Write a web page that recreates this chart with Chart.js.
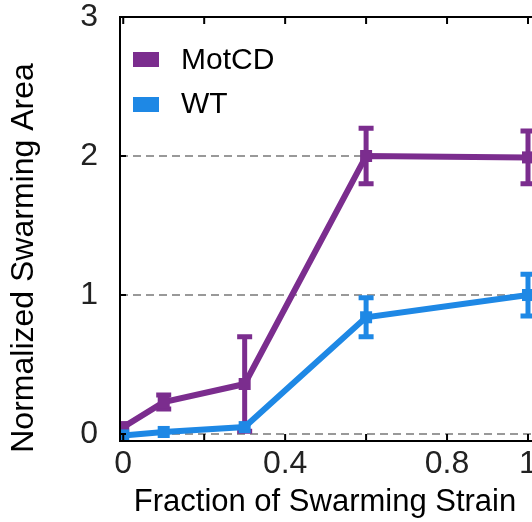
<!DOCTYPE html>
<html>
<head>
<meta charset="utf-8">
<script src="https://cdn.jsdelivr.net/npm/chart.js@4.4.1/dist/chart.umd.min.js"></script>
<style>
  html, body { margin: 0; padding: 0; overflow: hidden; background: #fff; }
  #wrap { width: 560px; height: 522px; }
</style>
</head>
<body>
<div id="wrap"><canvas id="myChart" width="560" height="522"></canvas></div>
<script>
// data
const fractions = [0, 0.1, 0.3, 0.6, 1];
const motcdArea = [0.05, 0.23, 0.36, 2.0, 1.99];
const motcdErr = [0, 0.05, 0.34, 0.2, 0.19];
const wtArea = [-0.01, 0.015, 0.05, 0.84, 1.0];
const wtErr = [0, 0, 0, 0.14, 0.15];
const xTicks = [0, 0.2, 0.4, 0.6, 0.8, 1];
const xLabels = ["0", "", "0.4", "", "0.8", "1"];
const yTicks = [0, 1, 2, 3];

const PURPLE = "#7b2d8e";
const BLUE = "#1e88e5";
const FONT = "'Liberation Sans', Arial, sans-serif";

const toPoints = (vals) => vals.map((v, i) => ({ x: fractions[i], y: v }));

// error bars, axes box, inward ticks, legend and axis titles
const extras = {
  id: "extras",
  beforeDatasetsDraw(chart) {
    const { ctx } = chart;
    const xs = chart.scales.x;
    const ys = chart.scales.y;
    const sets = [
      { vals: motcdArea, errs: motcdErr, color: PURPLE },
      { vals: wtArea, errs: wtErr, color: BLUE },
    ];
    ctx.save();
    sets.forEach((s) => {
      ctx.strokeStyle = s.color;
      ctx.lineWidth = 5;
      s.vals.forEach((v, i) => {
        if (!s.errs[i]) return;
        const px = xs.getPixelForValue(fractions[i]);
        const top = ys.getPixelForValue(v + s.errs[i]);
        const bot = ys.getPixelForValue(v - s.errs[i]);
        ctx.beginPath();
        ctx.moveTo(px, top);
        ctx.lineTo(px, bot);
        ctx.moveTo(px - 7.5, top);
        ctx.lineTo(px + 7.5, top);
        ctx.moveTo(px - 7.5, bot);
        ctx.lineTo(px + 7.5, bot);
        ctx.stroke();
      });
    });
    ctx.restore();
  },
  afterDraw(chart) {
    const { ctx, chartArea: a } = chart;
    const xs = chart.scales.x;
    const ys = chart.scales.y;
    ctx.save();
    // box
    ctx.strokeStyle = "#000";
    ctx.lineWidth = 2;
    ctx.beginPath();
    ctx.moveTo(a.right, a.top);
    ctx.lineTo(a.left, a.top);
    ctx.lineTo(a.left, a.bottom);
    ctx.lineTo(a.right, a.bottom);
    ctx.stroke();
    // inward ticks
    ctx.beginPath();
    xTicks.forEach((t) => {
      const px = xs.getPixelForValue(t);
      ctx.moveTo(px, a.bottom);
      ctx.lineTo(px, a.bottom - 7);
      ctx.moveTo(px, a.top);
      ctx.lineTo(px, a.top + 7);
    });
    yTicks.forEach((t) => {
      const py = ys.getPixelForValue(t);
      ctx.moveTo(a.left, py);
      ctx.lineTo(a.left + 6, py);
    });
    ctx.stroke();

    // legend
    ctx.font = "30px " + FONT;
    ctx.textBaseline = "middle";
    ctx.fillStyle = PURPLE;
    ctx.fillRect(133, 52, 26, 15);
    ctx.fillStyle = BLUE;
    ctx.fillRect(133, 97, 26, 15);
    ctx.fillStyle = "#000";
    ctx.fillText(chart.data.datasets[0].label, 181, 61);
    ctx.fillText(chart.data.datasets[1].label, 181, 105);

    // axis titles
    ctx.font = "31px " + FONT;
    ctx.textAlign = "center";
    ctx.fillText("Fraction of Swarming Strain", 325, 502);
    ctx.font = "32px " + FONT;
    ctx.translate(24, 258);
    ctx.rotate(-Math.PI / 2);
    ctx.fillText("Normalized Swarming Area", 0, 0);
    ctx.restore();
  },
};

const ctx = document.getElementById("myChart");

new Chart(ctx, {
  type: "line",
  data: {
    datasets: [
      {
        label: "MotCD",
        data: toPoints(motcdArea),
        borderColor: PURPLE,
        backgroundColor: PURPLE,
        borderWidth: 6,
        pointStyle: "rect",
        pointRadius: 8.5,
        pointBorderWidth: 0,
        order: 2,
      },
      {
        label: "WT",
        data: toPoints(wtArea),
        borderColor: BLUE,
        backgroundColor: BLUE,
        borderWidth: 6,
        pointStyle: "rect",
        pointRadius: 8.5,
        pointBorderWidth: 0,
        order: 1,
      },
    ],
  },
  options: {
    responsive: false,
    animation: false,
    layout: { padding: { top: 17, right: 15, left: 0, bottom: 0 } },
    plugins: {
      legend: { display: false },
      tooltip: { enabled: false },
    },
    scales: {
      x: {
        type: "linear",
        min: -0.008,
        max: 1.042,
        afterBuildTicks: (scale) => {
          scale.ticks = xTicks.map((v) => ({ value: v }));
        },
        afterFit: (scale) => {
          scale.height = 81;
          scale.paddingLeft = 0;
          scale.paddingRight = 0;
        },
        grid: { display: false, drawTicks: false },
        border: { display: false },
        ticks: {
          autoSkip: false,
          maxRotation: 0,
          padding: 4,
          color: "#222",
          font: { family: FONT, size: 32 },
          callback: (v, i) => xLabels[i],
        },
      },
      y: {
        min: -0.05,
        max: 3,
        afterBuildTicks: (scale) => {
          scale.ticks = yTicks.map((v) => ({ value: v }));
        },
        afterFit: (scale) => {
          scale.width = 120;
          scale.paddingTop = 0;
          scale.paddingBottom = 0;
        },
        grid: {
          color: "#999",
          lineWidth: 2,
          drawTicks: false,
        },
        border: { display: false, dash: [8, 5] },
        ticks: {
          padding: 22,
          color: "#222",
          font: { family: FONT, size: 32, lineHeight: 1 },
          callback: (v) => String(v),
        },
      },
    },
  },
  plugins: [extras],
});
</script>
</body>
</html>
